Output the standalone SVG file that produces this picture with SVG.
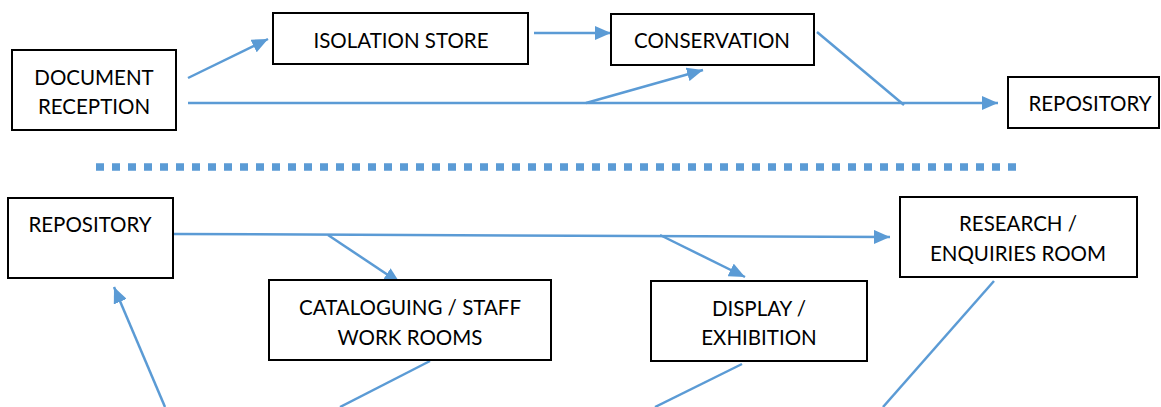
<svg xmlns="http://www.w3.org/2000/svg" width="1161" height="407" viewBox="0 0 1161 407">
<style>
.box{fill:#fff;stroke:#000;stroke-width:2}
.lbl{font-family:Lato,"Liberation Sans",sans-serif;font-size:20.5px;fill:#000;text-anchor:middle}
.c{fill:none;stroke:#5B9BD5;stroke-width:2.5}
.arr{marker-end:url(#ah)}
</style>
<defs>
<marker id="ah" markerUnits="userSpaceOnUse" markerWidth="16" markerHeight="14" viewBox="0 0 16 14" refX="16" refY="7" orient="auto">
<path d="M0,0 L16,7 L0,14 z" fill="#5B9BD5"/>
</marker>
</defs>
<g id="connectors">
<line class="c arr" x1="188" y1="78" x2="268" y2="39"/>
<line class="c arr" x1="534" y1="33" x2="611" y2="33"/>
<line class="c arr" x1="188" y1="103" x2="998" y2="103"/>
<line class="c arr" x1="586" y1="103" x2="703" y2="70"/>
<line class="c" x1="817" y1="32" x2="904" y2="105"/>
<line x1="96" y1="167" x2="1016" y2="167" stroke="#5B9BD5" stroke-width="7.5" stroke-dasharray="8 8"/>
<line class="c arr" x1="174" y1="234" x2="890" y2="237"/>
<line class="c arr" x1="328" y1="235" x2="400" y2="283"/>
<line class="c arr" x1="660" y1="235" x2="745" y2="277"/>
<line class="c arr" x1="165" y1="407" x2="114" y2="287"/>
<line class="c" x1="430" y1="361" x2="340" y2="407"/>
<line class="c" x1="742" y1="364" x2="655" y2="407"/>
<line class="c" x1="994" y1="281" x2="883" y2="407"/>
</g>
<g id="doc-reception">
<rect class="box" x="12" y="50" width="164" height="80"/>
<text class="lbl" x="94" y="85">DOCUMENT</text>
<text class="lbl" x="94" y="114">RECEPTION</text>
</g>
<g id="isolation-store">
<rect class="box" x="273" y="13" width="255" height="51"/>
<text class="lbl" x="401" y="48">ISOLATION STORE</text>
</g>
<g id="conservation">
<rect class="box" x="611" y="14" width="203" height="51"/>
<text class="lbl" x="712" y="48">CONSERVATION</text>
</g>
<g id="repository-top">
<rect class="box" x="1008" y="77" width="151" height="51"/>
<text class="lbl" x="1090" y="111">REPOSITORY</text>
</g>
<g id="repository-bottom">
<rect class="box" x="8" y="198" width="165" height="80"/>
<text class="lbl" x="90" y="232">REPOSITORY</text>
</g>
<g id="cataloguing">
<rect class="box" x="269" y="280" width="282" height="80"/>
<text class="lbl" x="410" y="315">CATALOGUING / STAFF</text>
<text class="lbl" x="410" y="345">WORK ROOMS</text>
</g>
<g id="display">
<rect class="box" x="651" y="281" width="216" height="80"/>
<text class="lbl" x="759" y="316">DISPLAY /</text>
<text class="lbl" x="759" y="345">EXHIBITION</text>
</g>
<g id="research">
<rect class="box" x="900" y="197" width="237" height="80"/>
<text class="lbl" x="1018" y="231">RESEARCH /</text>
<text class="lbl" x="1018" y="261">ENQUIRIES ROOM</text>
</g>
</svg>
